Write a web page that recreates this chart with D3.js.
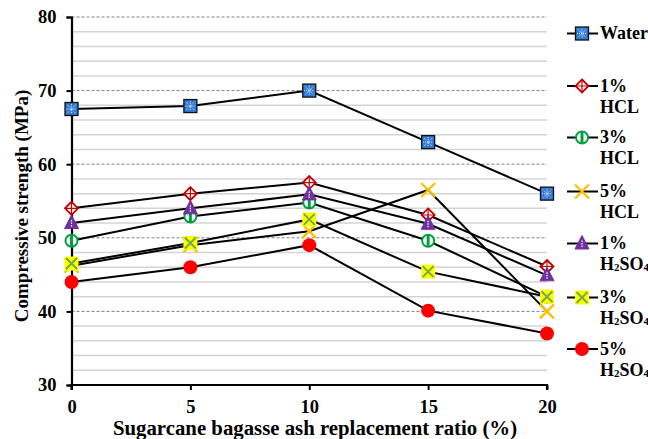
<!DOCTYPE html>
<html>
<head>
<meta charset="utf-8">
<script src="https://cdn.jsdelivr.net/npm/d3@7"></script>
<style>
  body { margin: 0; background: #fff; }
  svg { display: block; }
  text { font-family: "Liberation Serif", "Times New Roman", serif; font-weight: bold; }
</style>
</head>
<body>
<div id="chart"></div>
<script>
// --- datos ---
const ratios = [0, 5, 10, 15, 20];
const water   = [67.5, 67.9, 70, 63, 56];
const hcl1    = [54, 56, 57.5, 53.1, 46.1];
const hcl3    = [49.6, 52.9, 54.8, 49.6, 42];
const hcl5    = [46.2, 49, 50.9, 56.5, 40];
const h2so4_1 = [52, 54, 55.9, 51.9, 44.9];
const h2so4_3 = [46.5, 49.3, 52.5, 45.4, 42];
const h2so4_5 = [44, 46, 49, 40.1, 37];
const yTicks = [30, 40, 50, 60, 70, 80];

const series = [
  { name: ["Water"], values: water, mk: "water" },
  { name: ["1%", "HCL"], values: hcl1, mk: "diamond" },
  { name: ["3%", "HCL"], values: hcl3, mk: "ring" },
  { name: ["5%", "HCL"], values: hcl5, mk: "cross" },
  { name: ["1%", "H2SO4"], values: h2so4_1, mk: "tri" },
  { name: ["3%", "H2SO4"], values: h2so4_3, mk: "ysq" },
  { name: ["5%", "H2SO4"], values: h2so4_5, mk: "dot" }
];
// orden de dibujo (los de arriba tapan a los de abajo)
const drawOrder = [0, 2, 1, 4, 3, 5, 6];

const FONT = "'Liberation Serif', 'Times New Roman', serif";
const W = 648, H = 439;
const pL = 71.5, pR = 547, pT = 17, pB = 385;

const svg = d3.select("#chart").append("svg").attr("width", W).attr("height", H)
  .attr("font-family", FONT).attr("font-weight", "bold");

const x = d3.scaleLinear().domain([0, 20]).range([pL, pR]);
const y = d3.scaleLinear().domain([30, 80]).range([pB, pT]);

// rejilla menor
svg.append("g").selectAll("line")
  .data(d3.range(32, 80, 2).filter(v => v % 10 !== 0))
  .join("line")
  .attr("x1", pL).attr("x2", pR)
  .attr("y1", d => y(d)).attr("y2", d => y(d))
  .attr("stroke", "#d4d4d4").attr("stroke-width", 1.5);

// rejilla mayor
svg.append("g").selectAll("line")
  .data(yTicks.slice(1))
  .join("line")
  .attr("x1", pL).attr("x2", pR)
  .attr("y1", d => y(d)).attr("y2", d => y(d))
  .attr("stroke", "#7f7f7f").attr("stroke-width", 1).attr("stroke-dasharray", "3,2");

// ejes
const xAxis = svg.append("g")
  .attr("transform", `translate(0,${pB})`)
  .call(d3.axisBottom(x).tickValues(ratios).tickSize(5).tickPadding(10).tickFormat(d3.format("d")));
const yAxis = svg.append("g")
  .attr("transform", `translate(${pL},0)`)
  .call(d3.axisLeft(y).tickValues(yTicks).tickSize(5).tickPadding(10));
[xAxis, yAxis].forEach(g => {
  g.attr("font-family", FONT).attr("font-size", 18.5);
  g.select(".domain").attr("stroke", "#000").attr("stroke-width", 2.2);
  g.selectAll(".tick line").attr("stroke", "#000").attr("stroke-width", 2);
  g.selectAll(".tick text").attr("fill", "#000");
});
xAxis.select(".domain").attr("d", `M${pL},5V0H${pR}V5`);

// titulos de ejes
svg.append("text")
  .attr("x", 315).attr("y", 435).attr("text-anchor", "middle")
  .attr("font-size", 20.8).text("Sugarcane bagasse ash replacement ratio (%)");
svg.append("text")
  .attr("transform", "translate(28,206) rotate(-90)")
  .attr("text-anchor", "middle")
  .attr("font-size", 19).text("Compressive strength (MPa)");

// marcadores
function marker(g, type) {
  if (type === "water") {
    g.append("rect").attr("x", -6.5).attr("y", -6.5).attr("width", 13).attr("height", 13)
      .attr("fill", "#2f7bd6").attr("stroke", "#111").attr("stroke-width", 1.3);
    g.append("path").attr("d", "M-4,-4L4,4M4,-4L-4,4M0,-5V5M-5,0H5")
      .attr("stroke", "#dbe9fb").attr("stroke-width", 1).attr("stroke-dasharray", "1,1");
  } else if (type === "diamond") {
    g.append("path").attr("d", "M0,-6.5L6.5,0L0,6.5L-6.5,0Z")
      .attr("fill", "#fff").attr("stroke", "#c00000").attr("stroke-width", 1.8);
    g.append("path").attr("d", "M0,-6V6M-6,0H6")
      .attr("stroke", "#c00000").attr("stroke-width", 1.2);
  } else if (type === "ring") {
    g.append("circle").attr("r", 6).attr("fill", "#fff").attr("stroke", "#00a040").attr("stroke-width", 2);
    g.append("rect").attr("x", -1.5).attr("y", -6).attr("width", 3).attr("height", 12).attr("fill", "#00a040");
  } else if (type === "cross") {
    g.append("path").attr("d", "M-7,-7L7,7M7,-7L-7,7")
      .attr("stroke", "#ffc000").attr("stroke-width", 2.3);
  } else if (type === "tri") {
    g.append("path").attr("d", "M0,-8L7,5.5H-7Z")
      .attr("fill", "#7030a0").attr("stroke", "#7030a0").attr("stroke-width", 1);
    g.append("path").attr("d", "M0,-3V4").attr("stroke", "#fff").attr("stroke-width", 1.2).attr("stroke-dasharray", "1.5,1");
  } else if (type === "ysq") {
    g.append("rect").attr("x", -7).attr("y", -7).attr("width", 14).attr("height", 14).attr("fill", "#ffff00");
    g.append("path").attr("d", "M-5.5,-5.5L5.5,5.5M5.5,-5.5L-5.5,5.5")
      .attr("stroke", "#70ad47").attr("stroke-width", 2);
  } else if (type === "dot") {
    g.append("circle").attr("r", 7).attr("fill", "#ff0000");
  }
}

const line = d3.line().x((d, i) => x(ratios[i])).y(d => y(d));

const plot = svg.append("g");
drawOrder.forEach(k => {
  const s = series[k];
  plot.append("path").datum(s.values)
    .attr("fill", "none").attr("stroke", "#000").attr("stroke-width", 2).attr("d", line);
});
drawOrder.forEach(k => {
  const s = series[k];
  s.values.forEach((v, i) => {
    const g = plot.append("g").attr("transform", `translate(${x(ratios[i])},${y(v)})`);
    marker(g, s.mk);
  });
});

// leyenda
const legY = [33.5, 86, 137.5, 191.5, 243.5, 297.5, 349];
series.forEach((s, k) => {
  const g = svg.append("g").attr("transform", `translate(0,${legY[k]})`);
  g.append("line").attr("x1", 567).attr("x2", 598).attr("stroke", "#000").attr("stroke-width", 2);
  marker(g.append("g").attr("transform", "translate(582,0)"), s.mk);
  s.name.forEach((t, j) => {
    const txt = g.append("text").attr("x", 600).attr("y", 5.5 + j * 21).attr("font-size", 18);
    if (t === "H2SO4") {
      txt.append("tspan").text("H");
      txt.append("tspan").text("2").attr("font-size", 11).attr("dy", 1);
      txt.append("tspan").text("SO").attr("dy", -1);
      txt.append("tspan").text("4").attr("font-size", 11).attr("dy", 1);
    } else {
      txt.text(t);
    }
  });
});
</script>
</body>
</html>
